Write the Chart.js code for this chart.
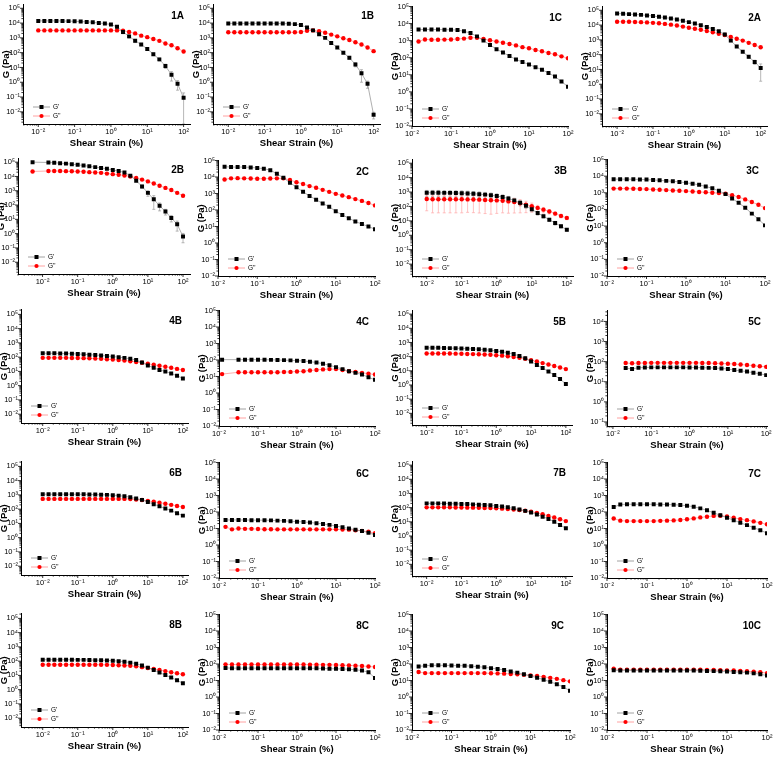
<!DOCTYPE html>
<html><head><meta charset="utf-8">
<script src="https://cdn.jsdelivr.net/npm/chart.js@4.4.0/dist/chart.umd.min.js"></script>
<style>
html,body{margin:0;padding:0;background:#fff;}
#wrap{position:relative;width:778px;height:759px;overflow:hidden;background:#fff;}
#wrap canvas{position:absolute;}
</style></head><body><div id="wrap"></div>
<script>
// ---------- strain (x) values, % ----------
const strainA = [0.01,0.0147,0.0215,0.0316,0.0464,0.0681,0.1,0.147,0.215,0.316,0.464,0.681,1,1.47,2.15,3.16,4.64,6.81,10,14.7,21.5,31.6,46.4,68.1,100];
const strainB = [0.0147,0.0215,0.0316,0.0464,0.0681,0.1,0.147,0.215,0.316,0.464,0.681,1,1.47,2.15,3.16,4.64,6.81,10,14.7,21.5,31.6,46.4,68.1,100];
const strain2B = [0.0052,0.0147,0.0215,0.0316,0.0464,0.0681,0.1,0.147,0.215,0.316,0.464,0.681,1,1.47,2.15,3.16,4.64,6.81,10,14.7,21.5,31.6,46.4,68.1,100];
const strain4C = [0.012,0.0316,0.0464,0.0681,0.1,0.147,0.215,0.316,0.464,0.681,1,1.47,2.15,3.16,4.64,6.81,10,14.7,21.5,31.6,46.4,68.1,100];
const strain5C = [0.0215,0.0316,0.0464,0.0681,0.1,0.147,0.215,0.316,0.464,0.681,1,1.47,2.15,3.16,4.64,6.81,10,14.7,21.5,31.6,46.4,68.1,100];

// ---------- G' (storage) and G'' (loss), Pa ----------
const gp1A = [1.4e4,1.4e4,1.4e4,1.4e4,1.38e4,1.35e4,1.32e4,1.26e4,1.2e4,1.12e4,1.0e4,9.3e3,7.9e3,5.6e3,2.5e3,1.26e3,630,355,178,79,35,12.6,3.2,0.79,0.089];
const gpp1A = [3.2e3,3.2e3,3.2e3,3.2e3,3.2e3,3.2e3,3.2e3,3.2e3,3.2e3,3.2e3,3.2e3,3.2e3,3.2e3,3.2e3,3.0e3,2.5e3,2.0e3,1.41e3,1.12e3,830,630,420,316,200,120];
const gp1B = [9.5e3,9.5e3,9.5e3,9.5e3,9.5e3,9.5e3,9.5e3,9.5e3,9.5e3,9.3e3,9.0e3,8.5e3,7.4e3,5.0e3,3.2e3,1.78e3,1.0e3,450,224,100,45,16,4.0,0.79,0.0063];
const gpp1B = [2.4e3,2.4e3,2.4e3,2.4e3,2.4e3,2.4e3,2.4e3,2.4e3,2.4e3,2.4e3,2.4e3,2.4e3,2.5e3,3.0e3,3.2e3,2.8e3,2.24e3,1.66e3,1.26e3,930,710,500,355,224,126];
const gp1C = [4.5e3,4.5e3,4.5e3,4.5e3,4.4e3,4.3e3,4.2e3,3.5e3,2.8e3,1.78e3,1.0e3,560,316,200,126,79,56,40,28,20,12.6,7.9,4.0,2.0];
const gpp1C = [890,1.17e3,1.12e3,1.12e3,1.15e3,1.17e3,1.26e3,1.32e3,1.48e3,1.48e3,1.26e3,1.05e3,890,760,630,525,417,355,282,240,190,158,120,93];
const gp2A = [6.0e4,5.8e4,5.5e4,5.2e4,4.9e4,4.5e4,4.1e4,3.6e4,3.2e4,2.8e4,2.4e4,1.95e4,1.58e4,1.26e4,9.8e3,7.4e3,5.5e3,3.8e3,2.3e3,890,355,158,71,32,12.6];
const gpp2A = [1.66e4,1.66e4,1.66e4,1.62e4,1.58e4,1.51e4,1.41e4,1.32e4,1.2e4,1.07e4,9.3e3,7.9e3,6.6e3,5.6e3,4.8e3,4.0e3,3.3e3,2.6e3,2.14e3,1.58e3,1.2e3,890,630,450,316];
const gp2B = [1.0e5,9.5e4,9.1e4,8.5e4,7.9e4,7.2e4,6.5e4,5.8e4,5.1e4,4.5e4,3.9e4,3.4e4,2.8e4,2.4e4,1.9e4,1.12e4,5.0e3,2.0e3,710,250,89,35,12.6,4.5,0.63];
const gpp2B = [2.24e4,2.4e4,2.4e4,2.4e4,2.34e4,2.3e4,2.24e4,2.14e4,2.0e4,1.9e4,1.78e4,1.58e4,1.45e4,1.32e4,1.17e4,1.0e4,7.9e3,6.0e3,4.5e3,3.2e3,2.24e3,1.58e3,1.12e3,710,450];
const gp2C = [4.2e4,4.0e4,4.0e4,4.0e4,3.8e4,3.5e4,3.2e4,2.6e4,1.58e4,8.9e3,4.5e3,2.4e3,1.26e3,710,420,250,158,83,50,32,20,14,10,6.8];
const gpp2C = [7.1e3,8.3e3,8.5e3,8.3e3,8.1e3,7.9e3,7.9e3,8.1e3,8.3e3,8.3e3,6.6e3,4.8e3,3.8e3,2.8e3,2.24e3,1.66e3,1.26e3,955,760,600,457,355,263,190];
const gp3B = [890,890,890,870,870,850,830,790,760,710,660,600,525,450,355,263,178,112,63,35,21,12,7.1,4.2,2.4];
const gpp3B = [330,316,316,316,316,316,316,309,302,295,282,269,263,251,224,200,166,132,105,79,60,45,32,22,16];
const gp3C = [6.6e3,6.6e3,6.6e3,6.5e3,6.3e3,6.2e3,5.9e3,5.6e3,5.2e3,4.9e3,4.5e3,4.0e3,3.5e3,3.0e3,2.4e3,1.86e3,1.32e3,830,450,250,126,56,26,11];
const gpp3C = [1.78e3,1.78e3,1.78e3,1.74e3,1.7e3,1.66e3,1.58e3,1.51e3,1.45e3,1.38e3,1.32e3,1.26e3,1.2e3,1.12e3,1.07e3,1.0e3,955,890,710,560,400,280,190,120];
const gp4B = [190,186,186,182,178,174,166,158,148,141,132,120,110,100,89,76,63,42,26,18,12.6,10,7.1,5.0,3.2];
const gpp4B = [89,89,89,89,89,87,87,85,83,79,76,72,68,63,58,52,46,40,34,29,25,21,18,15,12.6];
const gp4C = [105,105,105,105,105,105,102,100,98,95,91,87,79,71,60,48,37,28,21,16.6,13.2,8.9,6.3];
const gpp4C = [14,18,18,18,18,18,18,18.2,18.6,19,20,21,23,25,27,28,28,25,21,19,16.6,14.8,13.2];
const gp5B = [417,417,417,407,398,389,380,363,347,331,309,282,251,219,186,151,112,76,45,26,15.8,8.9,5.0,2.6,1.17];
const gpp5B = [166,166,166,166,166,162,158,155,151,148,141,135,126,117,107,95,83,71,56,45,35,28,22,17,13.2];
const gp5C = [48,43,50,51,52,52,52,52,52,52,51,51,50,49,48,46,43,38,35,32,28,25,21.4];
const gpp5C = [85,83,85,85,87,87,87,87,87,87,87,87,85,85,83,81,79,76,72,68,63,59,55];
const gp6B = [1120,1120,1120,1120,1120,1120,1100,1100,1070,1050,1020,1000,955,890,794,692,562,447,316,224,158,112,79,52,35];
const gpp6B = [525,525,525,525,525,525,525,525,525,525,525,525,525,525,525,513,479,437,380,331,282,240,200,166,141];
const gp6C = [33,33,33,33,32,32,32,31,30,29,27.5,26,25,23,21,19,16.6,14,12,10,8.3,7.1,5.6,4.0];
const gpp6C = [12.6,8.9,10,9.5,9.5,9.3,9.1,9.1,8.9,8.9,8.9,8.9,8.9,8.9,8.9,8.9,8.9,8.9,8.7,8.5,7.9,7.2,6.3,5.2];
const gp7B = [200,200,200,195,191,186,182,178,170,162,155,145,132,120,105,89,74,59,45,33,23,16,10,6.0,3.5];
const gpp7B = [105,105,105,105,105,102,102,100,100,98,95,93,89,85,79,74,68,60,52,43,34,26,20,15,11.2];
const gp7C = [200,282,295,295,295,295,295,288,282,275,263,240,209,166,126,89,63,45,32,22,16,11.2,7.9,5.2];
const gpp7C = [40,30,28,28,28,28,28,29,30,31,33,36,41,47,52,58,59,54,45,37,32,27,22,18];
const gp8B = [126,126,126,126,126,126,123,123,120,117,115,112,107,100,91,79,66,50,35,24,15.8,10.5,7.1,4.5,2.8];
const gpp8B = [56,56,56,56,56,56,56,56,56,56,56,55,54,52,50,47,43,38,33,28,24,20,16.6,14,12];
const gp8C = [58,56,56,56,56,56,56,56,56,56,56,56,56,55,55,54,52,51,50,48,45,40,32,14];
const gpp8C = [95,93,93,93,93,93,93,93,93,93,93,93,93,91,91,89,89,87,85,83,79,76,71,66];
const gp9C = [71,79,83,83,83,81,79,78,74,69,63,56,50,43,35,30,24,19,14.8,11.2,8.3,6.0,4.0,2.4];
const gpp9C = [33,28,28,28,28,28,28,28,28,28,28,27.5,27,26,25,24,22,20,18.6,16.6,14.5,12.6,10.5,8.9];
const gp10C = [42,40,40,40,40,40,40,40,40,40,40,40,40,39,38,37,36,35,33,32,30,27,24,20];
const gpp10C = [52,45,45,45,45,45,45,45,45,45,45,45,45,45,44,43,42,41,40,38,36,34,32,28];

// ---------- standard deviations (error bars), Pa ----------
const sdGp1A = [0,0,0,0,0,0,0,0,0,0,0,0,0,0,600,300,150,60,30,15,8,4,2,0.5,0.1];
const sdGpp1A = [0,0,0,0,0,0,0,0,0,0,0,0,0,0,500,400,300,150,100,60,40,25,15,10,6];
const sdGp1B = [0,0,0,0,0,0,0,0,0,0,0,0,0,0,0,0,0,0,0,0,10,5,3,0.4,0.003];
const sdGp2A = [0,0,0,0,0,0,0,0,0,0,0,0,0,0,0,0,0,0,500,150,50,20,15,10,11];
const sdGp2B = [0,0,0,0,0,0,0,0,0,0,0,0,0,0,0,0,0,500,300,200,50,15,6,3,0.4];
const sdGp3B = [400,400,400,390,390,380,370,350,330,310,280,250,220,180,140,100,70,40,20,10,5,3,2,1,0.5];
const sdGpp3B = [280,280,280,280,280,280,280,270,265,260,250,240,230,215,190,165,130,95,65,40,25,15,9,6,4];

// ---------- tick labels ----------
const decadeValues = [0.001,0.01,0.1,1,10,100,1000,10000,100000];
const decadeLabels = ['10\u207B\u00B3','10\u207B\u00B2','10\u207B\u00B9','10\u2070','10\u00B9','10\u00B2','10\u00B3','10\u2074','10\u2075'];
const seriesNames = ["G'", "G''"];

// ---------- panel layout (frame = plot box L,T,R,B in page px) ----------
const padX = [0.0038,150], padY = [0.0015,1.8e5];
const padXw = [0.0024,140], padYw = [0.0024,2.2e5];
const exX = [0.01,100], exY = [0.01,1e5];
const panels = [
 {id:'1A', x:strainA, gp:gp1A, gpp:gpp1A, sd:[sdGp1A,sdGpp1A], frame:[23,3,190,124], xr:padX, yr:padY},
 {id:'1B', x:strainA, gp:gp1B, gpp:gpp1B, sd:[sdGp1B,null], frame:[213,3,380,124], xr:padX, yr:padY},
 {id:'1C', x:strainB, gp:gp1C, gpp:gpp1C, frame:[412,5,568,126], xr:exX, yr:exY},
 {id:'2A', x:strainA, gp:gp2A, gpp:gpp2A, sd:[sdGp2A,null], frame:[602,5,767,126], xr:padX, yr:padY},
 {id:'2B', x:strain2B, gp:gp2B, gpp:gpp2B, sd:[sdGp2B,null], frame:[18,157,190,274], xr:[0.002,158], yr:padY},
 {id:'2C', x:strainB, gp:gp2C, gpp:gpp2C, frame:[218,159,375,276], xr:exX, yr:exY},
 {id:'3B', x:strainA, gp:gp3B, gpp:gpp3B, sd:[sdGp3B,sdGpp3B], frame:[412,158,573,276], xr:padX, yr:padY},
 {id:'3C', x:strainB, gp:gp3C, gpp:gpp3C, frame:[607,158,765,276], xr:exX, yr:exY},
 {id:'4B', x:strainA, gp:gp4B, gpp:gpp4B, frame:[21,308,188,423], xr:padXw, yr:padYw},
 {id:'4C', x:strain4C, gp:gp4C, gpp:gpp4C, frame:[219,309,375,426], xr:exX, yr:exY},
 {id:'5B', x:strainA, gp:gp5B, gpp:gpp5B, frame:[412,309,572,425], xr:padX, yr:padY},
 {id:'5C', x:strain5C, gp:gp5C, gpp:gpp5C, frame:[607,309,767,426], xr:[0.007,105], yr:[0.063,3.5e4]},
 {id:'6B', x:strainA, gp:gp6B, gpp:gpp6B, frame:[21,460,188,575], xr:padXw, yr:padYw},
 {id:'6C', x:strainB, gp:gp6C, gpp:gpp6C, frame:[219,461,375,578], xr:exX, yr:exY},
 {id:'7B', x:strainA, gp:gp7B, gpp:gpp7B, frame:[412,460,572,576], xr:padX, yr:padY},
 {id:'7C', x:strainB, gp:gp7C, gpp:gpp7C, frame:[607,461,767,578], xr:exX, yr:exY},
 {id:'8B', x:strainA, gp:gp8B, gpp:gpp8B, frame:[21,612,188,727], xr:padXw, yr:padYw},
 {id:'8C', x:strainB, gp:gp8C, gpp:gpp8C, frame:[219,613,375,730], xr:exX, yr:exY},
 {id:'9C', x:strainB, gp:gp9C, gpp:gpp9C, frame:[412,613,570,730], xr:exX, yr:exY},
 {id:'10C', x:strainB, gp:gp10C, gpp:gpp10C, frame:[607,613,767,730], xr:exX, yr:exY}
];

const FONT = 'Arial, "Liberation Sans", sans-serif';
const PAD_L = 22, PAD_T = 6, PAD_R = 9, PAD_B = 25;

function decadeLabel(v){
  const i = decadeValues.findIndex(d => Math.abs(d - v) / d < 1e-6);
  return i >= 0 ? decadeLabels[i] : '';
}

const errPlugin = {
  id: 'errbars',
  beforeDatasetsDraw(chart, args, opts){
    if (!opts.sd) return;
    const ctx = chart.ctx, a = chart.chartArea, xs = chart.scales.x, ys = chart.scales.y;
    ctx.save();
    ctx.beginPath(); ctx.rect(a.left, a.top, a.right - a.left, a.bottom - a.top); ctx.clip();
    chart.data.datasets.forEach((ds, di) => {
      const sd = opts.sd[di];
      if (!sd) return;
      ctx.strokeStyle = di === 0 ? '#9a9a9a' : '#ffa8a8';
      ctx.lineWidth = 0.7;
      ds.data.forEach((pt, i) => {
        const s = sd[i];
        if (!s) return;
        const px = xs.getPixelForValue(pt.x);
        const hi = ys.getPixelForValue(pt.y + s);
        const loV = pt.y - s;
        const lo = loV > 0 ? ys.getPixelForValue(loV) : a.bottom;
        ctx.beginPath();
        ctx.moveTo(px, hi); ctx.lineTo(px, lo);
        ctx.moveTo(px - 1.5, hi); ctx.lineTo(px + 1.5, hi);
        ctx.moveTo(px - 1.5, lo); ctx.lineTo(px + 1.5, lo);
        ctx.stroke();
      });
    });
    ctx.restore();
  }
};

const decoPlugin = {
  id: 'deco',
  afterDraw(chart, args, opts){
    const ctx = chart.ctx, a = chart.chartArea, xs = chart.scales.x, ys = chart.scales.y;
    ctx.save();
    ctx.strokeStyle = '#000'; ctx.lineWidth = 0.8;
    for (let e = -3; e <= 5; e++) {
      for (let m = 1; m < 10; m++) {
        const v = m * decadeValues[e + 3];
        const len = m === 1 ? 3 : 1.6;
        if (v >= xs.min * 0.999 && v <= xs.max * 1.001) {
          const px = xs.getPixelForValue(v);
          ctx.beginPath(); ctx.moveTo(px, a.bottom); ctx.lineTo(px, a.bottom + len); ctx.stroke();
        }
        if (v >= ys.min * 0.999 && v <= ys.max * 1.001) {
          const py = ys.getPixelForValue(v);
          ctx.beginPath(); ctx.moveTo(a.left, py); ctx.lineTo(a.left - len, py); ctx.stroke();
        }
      }
    }
    // panel label
    ctx.fillStyle = '#000';
    ctx.font = 'bold 10px ' + FONT;
    ctx.textAlign = 'right'; ctx.textBaseline = 'middle';
    ctx.fillText(opts.label, a.right - 6, a.top + 12);
    // legend
    ctx.font = '6.5px ' + FONT; ctx.textAlign = 'left';
    chart.data.datasets.forEach((ds, i) => {
      const y = a.bottom - 17 + i * 9;
      const x0 = a.left + 10, x1 = a.left + 27, xm = (x0 + x1) / 2;
      ctx.strokeStyle = ds.borderColor; ctx.lineWidth = 0.8;
      ctx.beginPath(); ctx.moveTo(x0, y); ctx.lineTo(x1, y); ctx.stroke();
      ctx.fillStyle = ds.pointBackgroundColor;
      if (ds.pointStyle === 'rect') { ctx.fillRect(xm - 2, y - 2, 4, 4); }
      else { ctx.beginPath(); ctx.arc(xm, y, 2.1, 0, Math.PI * 2); ctx.fill(); }
      ctx.fillStyle = '#000';
      ctx.fillText(ds.label, x1 + 3, y);
    });
    ctx.restore();
  }
};

const wrap = document.getElementById('wrap');
panels.forEach(p => {
  const [L, T, R, B] = p.frame;
  const w = PAD_L + (R - L) + PAD_R, h = PAD_T + (B - T) + PAD_B;
  const c = document.createElement('canvas');
  c.width = w; c.height = h;
  c.style.left = (L - PAD_L) + 'px'; c.style.top = (T - PAD_T) + 'px';
  c.style.width = w + 'px'; c.style.height = h + 'px';
  wrap.appendChild(c);
  const axisBase = (min, max, titleText, fitKey, fitVal) => ({
    type: 'logarithmic', min, max,
    afterFit(s){ s[fitKey] = fitVal; },
    afterBuildTicks(s){ s.ticks = decadeValues.filter(v => v >= min * 0.999 && v <= max * 1.001).map(v => ({value: v})); },
    ticks: { callback: v => decadeLabel(v), font: {size: 7.5, family: FONT}, color: '#000', padding: 3, maxRotation: 0, autoSkip: false },
    grid: { display: false, drawTicks: false },
    border: { display: true, color: '#000', width: 1 },
    title: { display: true, text: titleText, color: '#000', font: {size: 9.5, weight: 'bold', family: FONT}, padding: {top: 0, bottom: 0} }
  });
  new Chart(c, {
    type: 'scatter',
    data: { datasets: [
      { label: seriesNames[0], data: p.x.map((x, i) => ({x, y: p.gp[i]})), showLine: true,
        borderColor: '#8c8c8c', borderWidth: 0.7, pointStyle: 'rect', pointRadius: 2.8,
        pointBackgroundColor: '#000', pointBorderWidth: 0, pointBorderColor: '#000' },
      { label: seriesNames[1], data: p.x.map((x, i) => ({x, y: p.gpp[i]})), showLine: true,
        borderColor: '#ff8a8a', borderWidth: 0.7, pointStyle: 'circle', pointRadius: 2.2,
        pointBackgroundColor: '#ff0000', pointBorderWidth: 0, pointBorderColor: '#ff0000' }
    ]},
    options: {
      responsive: false, animation: false, devicePixelRatio: 1,
      layout: { padding: {left: 0, top: PAD_T, right: PAD_R, bottom: 0}, autoPadding: false },
      plugins: { legend: {display: false}, tooltip: {enabled: false}, deco: {label: p.id}, errbars: {sd: p.sd || null} },
      scales: {
        x: axisBase(p.xr[0], p.xr[1], 'Shear Strain (%)', 'height', PAD_B),
        y: axisBase(p.yr[0], p.yr[1], 'G (Pa)', 'width', PAD_L)
      }
    },
    plugins: [errPlugin, decoPlugin]
  });
});
</script>
</body></html>
